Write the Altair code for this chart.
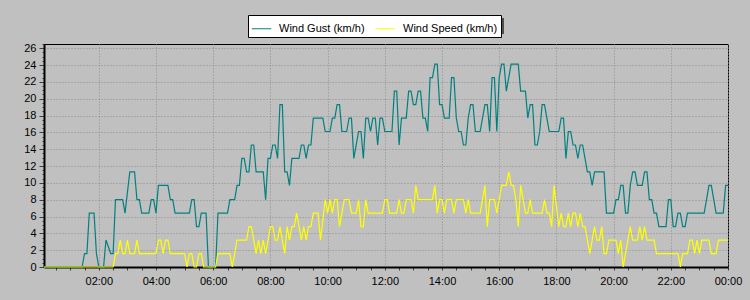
import altair as alt
import pandas as pd

series_names = ["Wind Gust (km/h)", "Wind Speed (km/h)"]
series_colors = ["#008080", "#ffff00"]

gust_times = [
    "00:05", "01:25", "01:30", "01:35", "01:40", "01:50", "01:55", "02:00", "02:10", "02:15",
    "02:25", "02:30", "02:35", "02:50", "02:55", "03:05", "03:15", "03:20", "03:25", "03:30",
    "03:45", "03:50", "03:55", "04:00", "04:05", "04:25", "04:30", "04:35", "04:40", "05:10",
    "05:15", "05:20", "05:25", "05:30", "05:35", "05:45", "05:50", "06:05", "06:10", "06:30",
    "06:35", "06:45", "06:50", "06:55", "07:00", "07:05", "07:10", "07:15", "07:20", "07:25",
    "07:30", "07:45", "07:50", "07:55", "08:00", "08:05", "08:10", "08:15", "08:20", "08:25",
    "08:30", "08:35", "08:40", "08:45", "09:00", "09:05", "09:10", "09:15", "09:20", "09:25",
    "09:30", "09:50", "09:55", "10:05", "10:10", "10:15", "10:20", "10:25", "10:30", "10:40",
    "10:45", "10:50", "10:55", "11:05", "11:10", "11:15", "11:20", "11:25", "11:30", "11:35",
    "11:40", "11:45", "11:50", "11:55", "12:00", "12:15", "12:20", "12:25", "12:30", "12:35",
    "12:45", "12:50", "12:55", "13:00", "13:05", "13:10", "13:15", "13:20", "13:25", "13:30",
    "13:35", "13:40", "13:45", "13:50", "13:55", "14:00", "14:05", "14:15", "14:20", "14:25",
    "14:30", "14:35", "14:40", "14:45", "14:50", "14:55", "15:00", "15:05", "15:10", "15:20",
    "15:25", "15:30", "15:35", "15:40", "15:45", "15:50", "15:55", "16:00", "16:05", "16:10",
    "16:15", "16:25", "16:40", "16:45", "16:55", "17:00", "17:05", "17:10", "17:15", "17:20",
    "17:25", "17:30", "17:35", "17:40", "17:45", "18:05", "18:10", "18:15", "18:20", "18:25",
    "18:30", "18:35", "18:40", "18:45", "18:50", "18:55", "19:05", "19:10", "19:15", "19:20",
    "19:40", "19:45", "20:00", "20:05", "20:10", "20:15", "20:20", "20:25", "20:30", "20:35",
    "20:40", "20:45", "20:50", "21:00", "21:05", "21:10", "21:15", "21:20", "21:25", "21:30",
    "21:35", "21:50", "21:55", "22:00", "22:05", "22:10", "22:15", "22:20", "22:25", "22:30",
    "22:35", "23:10", "23:15", "23:20", "23:25", "23:35", "23:50", "23:55", "24:00",
]
gust_values = [
    0, 0, 1.6, 1.6, 6.4, 6.4, 1.6, 0, 0, 3.2,
    1.6, 1.6, 8.0, 8.0, 6.4, 11.3, 11.3, 8.0, 8.0, 6.4,
    6.4, 8.0, 8.0, 6.4, 9.7, 9.7, 8.0, 8.0, 6.4, 6.4,
    8.0, 8.0, 4.8, 4.8, 6.4, 6.4, 0, 0, 6.4, 6.4,
    8.0, 8.0, 9.7, 9.7, 12.9, 12.9, 11.3, 11.3, 14.5, 14.5,
    11.3, 11.3, 8.0, 12.9, 12.9, 14.5, 14.5, 12.9, 19.3, 19.3,
    11.3, 11.3, 9.7, 12.9, 12.9, 14.5, 14.5, 12.9, 14.5, 14.5,
    17.7, 17.7, 16.1, 16.1, 17.7, 17.7, 19.3, 19.3, 16.1, 16.1,
    17.7, 17.7, 12.9, 16.1, 16.1, 12.9, 17.7, 17.7, 16.1, 17.7,
    17.7, 14.5, 17.7, 17.7, 16.1, 16.1, 20.9, 20.9, 14.5, 17.7,
    17.7, 20.9, 20.9, 19.3, 19.3, 20.9, 20.9, 17.7, 17.7, 16.1,
    22.5, 22.5, 24.1, 24.1, 19.3, 19.3, 17.7, 17.7, 22.5, 22.5,
    17.7, 16.1, 16.1, 14.5, 14.5, 17.7, 19.3, 19.3, 16.1, 16.1,
    17.7, 19.3, 19.3, 16.1, 22.5, 22.5, 16.1, 22.5, 24.1, 24.1,
    20.9, 24.1, 24.1, 20.9, 20.9, 17.7, 19.3, 19.3, 14.5, 14.5,
    16.1, 19.3, 19.3, 17.7, 16.1, 16.1, 17.7, 17.7, 12.9, 16.1,
    16.1, 14.5, 14.5, 12.9, 14.5, 14.5, 11.3, 11.3, 9.7, 11.3,
    11.3, 6.4, 6.4, 8.0, 8.0, 9.7, 9.7, 6.4, 6.4, 9.7,
    11.3, 11.3, 9.7, 9.7, 11.3, 11.3, 8.0, 8.0, 6.4, 6.4,
    4.8, 4.8, 8.0, 8.0, 4.8, 4.8, 6.4, 6.4, 4.8, 4.8,
    6.4, 6.4, 8.0, 9.7, 9.7, 6.4, 6.4, 9.7, 9.7,
]

speed_times = [
    "00:05", "02:30", "02:35", "02:40", "02:45", "02:50", "02:55", "03:00", "03:05", "03:15",
    "03:20", "03:25", "04:00", "04:05", "04:10", "04:15", "04:20", "04:25", "04:30", "05:00",
    "05:05", "05:10", "05:15", "05:20", "05:25", "05:30", "05:35", "05:40", "06:05", "06:10",
    "06:35", "06:40", "06:45", "06:50", "07:10", "07:15", "07:20", "07:25", "07:30", "07:35",
    "07:40", "07:45", "07:50", "07:55", "08:00", "08:05", "08:10", "08:15", "08:20", "08:25",
    "08:30", "08:35", "08:40", "08:45", "08:50", "08:55", "09:05", "09:10", "09:15", "09:20",
    "09:25", "09:30", "09:40", "09:45", "09:55", "10:00", "10:05", "10:10", "10:15", "10:20",
    "10:25", "10:35", "10:45", "10:50", "11:00", "11:05", "11:10", "11:15", "11:20", "11:25",
    "11:55", "12:00", "12:05", "12:10", "12:25", "12:30", "12:35", "12:40", "12:45", "12:55",
    "13:00", "13:05", "13:10", "13:40", "13:45", "13:50", "13:55", "14:00", "14:05", "14:10",
    "14:20", "14:25", "14:30", "14:45", "14:50", "14:55", "15:00", "15:20", "15:25", "15:30",
    "15:35", "15:40", "15:50", "15:55", "16:00", "16:05", "16:15", "16:20", "16:25", "16:30",
    "16:35", "16:40", "16:45", "16:55", "17:00", "17:05", "17:10", "17:30", "17:35", "17:40",
    "17:45", "17:50", "17:55", "18:05", "18:10", "18:15", "18:20", "18:25", "18:30", "18:35",
    "18:40", "18:45", "18:50", "18:55", "19:00", "19:05", "19:10", "19:20", "19:25", "19:30",
    "19:35", "19:40", "19:45", "19:50", "20:05", "20:10", "20:15", "20:20", "20:30", "20:35",
    "20:40", "20:50", "20:55", "21:00", "21:05", "21:10", "21:25", "21:30", "22:15", "22:20",
    "22:25", "22:35", "22:40", "22:45", "22:50", "22:55", "23:00", "23:05", "23:20", "23:25",
    "23:35", "23:40", "24:00",
]
speed_values = [
    0, 0, 1.6, 1.6, 3.2, 1.6, 1.6, 3.2, 1.6, 1.6,
    3.2, 1.6, 1.6, 3.2, 3.2, 1.6, 3.2, 3.2, 1.6, 1.6,
    0, 1.6, 1.6, 0, 0, 1.6, 1.6, 0, 0, 1.6,
    1.6, 0, 1.6, 3.2, 3.2, 4.8, 4.8, 3.2, 1.6, 3.2,
    1.6, 3.2, 1.6, 3.2, 4.8, 4.8, 3.2, 3.2, 4.8, 3.2,
    1.6, 4.8, 3.2, 4.8, 4.8, 6.4, 3.2, 4.8, 3.2, 4.8,
    4.8, 6.4, 6.4, 3.2, 8.0, 6.4, 8.0, 6.4, 8.0, 8.0,
    4.8, 8.0, 8.0, 6.4, 6.4, 8.0, 4.8, 4.8, 8.0, 6.4,
    6.4, 8.0, 8.0, 6.4, 6.4, 8.0, 6.4, 6.4, 8.0, 8.0,
    6.4, 9.7, 8.0, 8.0, 9.7, 6.4, 8.0, 8.0, 6.4, 8.0,
    8.0, 6.4, 8.0, 8.0, 6.4, 8.0, 6.4, 6.4, 8.0, 9.7,
    4.8, 8.0, 8.0, 6.4, 8.0, 9.7, 9.7, 11.3, 9.7, 9.7,
    8.0, 4.8, 9.7, 6.4, 6.4, 8.0, 6.4, 6.4, 8.0, 6.4,
    6.4, 4.8, 9.7, 4.8, 6.4, 4.8, 4.8, 6.4, 4.8, 6.4,
    6.4, 4.8, 6.4, 4.8, 4.8, 3.2, 1.6, 4.8, 3.2, 3.2,
    4.8, 1.6, 1.6, 3.2, 3.2, 1.6, 3.2, 0, 3.2, 4.8,
    3.2, 3.2, 4.8, 3.2, 4.8, 3.2, 3.2, 1.6, 1.6, 0,
    1.6, 1.6, 3.2, 3.2, 1.6, 3.2, 1.6, 3.2, 3.2, 1.6,
    1.6, 3.2, 3.2,
]

x_tick_minutes = list(range(30, 1441, 30))
y_tick_values = [i / 2 for i in range(0, 54)]


def to_minutes(s):
    h, m = s.split(":")
    return int(h) * 60 + int(m)


gust_df = pd.DataFrame({
    "minute": [to_minutes(t) for t in gust_times],
    "kmh": gust_values,
    "series": series_names[0],
})
speed_df = pd.DataFrame({
    "minute": [to_minutes(t) for t in speed_times],
    "kmh": speed_values,
    "series": series_names[1],
})

FONT = "Liberation Sans"

x_enc = alt.X(
    "minute:Q",
    scale=alt.Scale(domain=[5, 1440], nice=False, zero=False),
    axis=alt.Axis(
        title=None,
        values=x_tick_minutes,
        labelExpr="datum.value % 120 === 0 ? (format(floor(datum.value / 60) % 24, '02d') + ':00') : ''",
        labelOverlap=False,
        labelFlush=False,
        labelFont=FONT,
        labelFontSize=11,
        labelColor="black",
        labelPadding=5,
        tickSize=3,
        tickColor="#404040",
        domainColor="black",
        domainWidth=2,
        grid=True,
        gridColor="#8c8c8c",
        gridDash=[1, 2],
        gridOpacity={"condition": {"test": "datum.value % 120 === 0", "value": 1}, "value": 0},
    ),
)

y_enc = alt.Y(
    "kmh:Q",
    scale=alt.Scale(domain=[0, 26.5], nice=False),
    axis=alt.Axis(
        title=None,
        values=y_tick_values,
        labelExpr="datum.value % 2 === 0 ? format(datum.value, 'd') : ''",
        labelOverlap=False,
        labelFlush=False,
        labelFont=FONT,
        labelFontSize=11,
        labelColor="black",
        labelPadding=3,
        tickSize={"condition": {"test": "datum.value % 2 === 0", "value": 5}, "value": 2},
        tickColor="#404040",
        domainColor="black",
        domainWidth=2,
        grid=True,
        gridColor="#8c8c8c",
        gridDash=[1, 2],
        gridOpacity={"condition": {"test": "datum.value % 2 === 0 && datum.value > 0", "value": 1}, "value": 0},
    ),
)

color_enc = alt.Color(
    "series:N",
    scale=alt.Scale(domain=series_names, range=series_colors),
    legend=alt.Legend(
        title=None,
        orient="none",
        legendX=204,
        legendY=-29,
        direction="horizontal",
        fillColor="white",
        strokeColor="black",
        padding=3,
        symbolType="stroke",
        symbolSize=380,
        symbolStrokeWidth=1,
        labelFont=FONT,
        labelFontSize=11,
        labelColor="black",
        labelOffset=7,
        columnPadding=8,
        zindex=1,
    ),
)

# drop shadow behind the legend box (decoration, pixel offsets from plot origin)
shadow = alt.Chart(pd.DataFrame({"k": [0]})).mark_rect(
    color="#3a3a3a", opacity=0.85, clip=False
).encode(
    x=alt.value(207), x2=alt.value(460),
    y=alt.value(-26), y2=alt.value(-10),
)

gust = alt.Chart(gust_df).mark_line(strokeWidth=1.2, interpolate="linear").encode(
    x=x_enc, y=y_enc, color=color_enc
)
speed = alt.Chart(speed_df).mark_line(strokeWidth=1.2, interpolate="linear").encode(
    x=x_enc, y=y_enc, color=color_enc
)

chart = alt.layer(shadow, gust, speed).properties(
    width=684,
    height=223,
    autosize=alt.AutoSizeParams(type="none"),
    padding={"left": 44, "top": 44, "right": 22, "bottom": 33},
    background="#c0c0c0",
).configure_view(
    stroke="black",
    strokeWidth=1,
    fill="#c0c0c0",
)

chart.save("out.html", embed_options={"renderer": "svg", "actions": False})
